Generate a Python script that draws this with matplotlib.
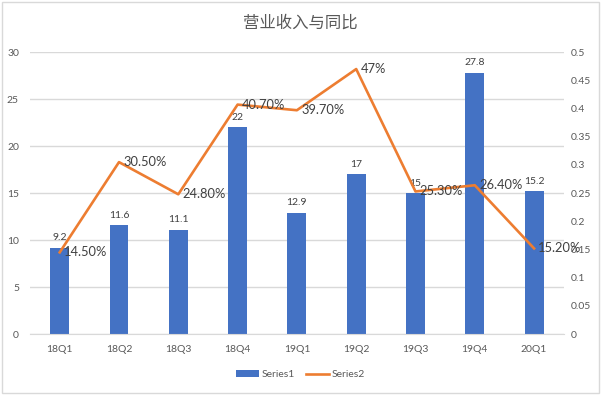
import matplotlib
matplotlib.use("Agg")
import matplotlib.pyplot as plt
from matplotlib.patches import Rectangle, Patch
from matplotlib.lines import Line2D

plt.rcParams['font.family'] = ['Lato', 'Noto Sans CJK SC', 'DejaVu Sans']

# data
quarters = ['18Q1', '18Q2', '18Q3', '18Q4', '19Q1', '19Q2', '19Q3', '19Q4', '20Q1']
revenue = [9.2, 11.6, 11.1, 22, 12.9, 17, 15, 27.8, 15.2]
revenue_labels = ['9.2', '11.6', '11.1', '22', '12.9', '17', '15', '27.8', '15.2']
yoy = [0.145, 0.305, 0.248, 0.407, 0.397, 0.47, 0.253, 0.264, 0.152]
yoy_labels = ['14.50%', '30.50%', '24.80%', '40.70%', '39.70%', '47%', '25.30%', '26.40%', '15.20%']

blue = '#4472C4'
orange = '#ED7D31'
grid_c = '#D9D9D9'
txt = '#595959'

fig = plt.figure(figsize=(6.01, 3.95), dpi=100)
ax = fig.add_axes([0.05, 0.154, 0.888, 0.714])
ax2 = ax.twinx()

x = list(range(len(quarters)))
ax.bar(x, revenue, width=0.32, color=blue, zorder=2)
for xi, v, s in zip(x, revenue, revenue_labels):
    ax.annotate(s, (xi, v), xytext=(0, 4), textcoords='offset points',
                ha='center', va='bottom', fontsize=7.5, color='#404040')

ax.set_xlim(-0.5, 8.5)
ax.set_ylim(0, 30)
ax.set_yticks(range(0, 31, 5))
ax.set_xticks(x)
ax.set_xticklabels(quarters)
ax.grid(axis='y', color=grid_c, linewidth=1, zorder=0)
ax.set_axisbelow(True)
for sp in ax.spines.values():
    sp.set_visible(False)
ax.spines['bottom'].set_visible(True)
ax.spines['bottom'].set_color(grid_c)
ax.tick_params(axis='both', length=0, labelsize=7.5, colors=txt)
ax.tick_params(axis='y', pad=8)
ax.tick_params(axis='x', pad=8)

ax2.plot(x, yoy, color=orange, linewidth=1.9, zorder=3)
for xi, v, s in zip(x, yoy, yoy_labels):
    ax2.annotate(s, (xi, v), xytext=(3, 0), textcoords='offset points',
                 ha='left', va='center', fontsize=9.3, color='#404040')
ax2.set_ylim(0, 0.5)
ax2.set_yticks([i * 0.05 for i in range(11)])
ax2.set_yticklabels(['0', '0.05', '0.1', '0.15', '0.2', '0.25', '0.3', '0.35', '0.4', '0.45', '0.5'])
for sp in ax2.spines.values():
    sp.set_visible(False)
ax2.tick_params(axis='y', length=0, labelsize=7.5, colors=txt, pad=5)

fig.text(0.5, 0.942, '营业收入与同比', ha='center', va='center', fontsize=11.8,
         color=txt, family=['Noto Sans CJK SC', 'DejaVu Sans'])

handles = [Patch(facecolor=blue, edgecolor='none'),
           Line2D([0], [0], color=orange, linewidth=1.9)]
fig.legend(handles, ['Series1', 'Series2'], loc='center', bbox_to_anchor=(0.5, 0.051),
           ncol=2, frameon=False, fontsize=7.5, labelcolor=txt,
           handlelength=2.2, handleheight=0.6, columnspacing=1.0, handletextpad=0.3)

fig.patches.append(Rectangle((0.003, 0.004), 0.994, 0.992, transform=fig.transFigure,
                             fill=False, edgecolor=grid_c, linewidth=1))

fig.savefig('out.png', dpi=100)
